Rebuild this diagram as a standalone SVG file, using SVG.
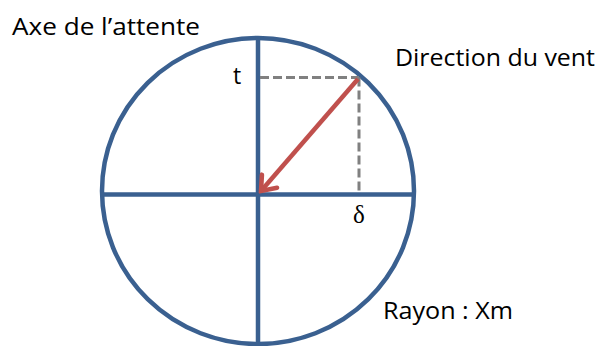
<svg xmlns="http://www.w3.org/2000/svg" width="605" height="346" viewBox="0 0 605 346">
<style>
.blue{fill:none;stroke:#3A6090;stroke-width:4.5}
.dash{fill:none;stroke:#808080;stroke-width:3;stroke-dasharray:9 4}
.red{fill:none;stroke:#C0504D;stroke-width:4.5}
.lbl{font-family:"Open Sans","Liberation Sans",sans-serif;font-size:23px;fill:#000}
.greek{font-family:"Liberation Serif",serif;font-size:25px;fill:#000}
</style>
<defs>
<marker id="arr" markerUnits="userSpaceOnUse" markerWidth="30" markerHeight="30" refX="27" refY="15" orient="auto" viewBox="0 0 30 30">
<path d="M14,5 L27,15 L14,25" fill="none" stroke="#C0504D" stroke-width="4.5" stroke-linecap="round" stroke-linejoin="miter"/>
</marker>
</defs>
<g id="circle">
<ellipse class="blue" cx="258" cy="191" rx="156" ry="153"/>
</g>
<g id="axes">
<line class="blue" x1="258" y1="38" x2="258" y2="346"/>
<line class="blue" x1="102" y1="194.5" x2="414" y2="194.5"/>
</g>
<g id="connectors">
<line class="dash" x1="260" y1="77.5" x2="359" y2="77.5"/>
<line class="dash" x1="359" y1="77.5" x2="359" y2="193"/>
<line class="red" x1="358" y1="79" x2="261" y2="191" marker-end="url(#arr)"/>
</g>
<g id="labels">
<text class="lbl" x="12" y="35" textLength="188" lengthAdjust="spacingAndGlyphs">Axe de l’attente</text>
<text class="lbl" x="395" y="66" textLength="200" lengthAdjust="spacingAndGlyphs">Direction du vent</text>
<text class="lbl" x="233" y="84">t</text>
<text class="greek" x="353" y="223">δ</text>
<text class="lbl" x="383" y="319" textLength="130" lengthAdjust="spacingAndGlyphs">Rayon : Xm</text>
</g>
</svg>
